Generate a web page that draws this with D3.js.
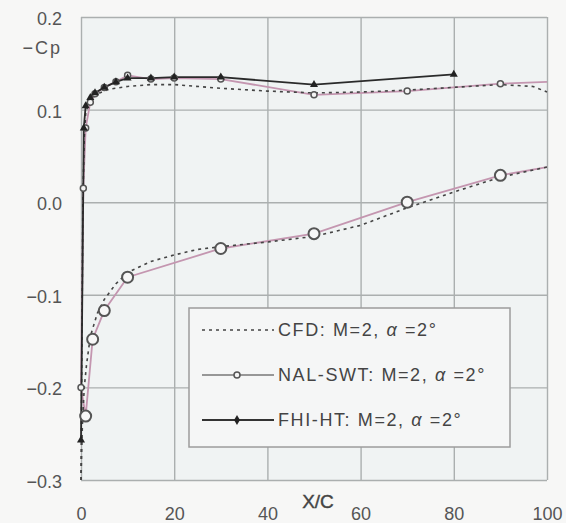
<!DOCTYPE html>
<html>
<head>
<meta charset="utf-8">
<script src="https://cdn.jsdelivr.net/npm/d3@7"></script>
<style>
  body { margin: 0; background: #f7f7f6; }
  svg { display: block; font-family: "Liberation Sans", Arial, sans-serif; }
</style>
</head>
<body>
<div id="chart"></div>
<script>
// === data
var xTicks = [0, 20, 40, 60, 80, 100],
    yTicks = [-0.3, -0.2, -0.1, 0.0, 0.1, 0.2];

// CFD, upper and lower surface
var cfdUpperX = [0, 0.2, 0.4, 0.7, 1, 1.5, 2.5, 4, 6, 10, 15, 20, 30, 40, 50, 60, 70, 80, 90, 97, 100],
    cfdUpperY = [-0.3, -0.15, 0.0, 0.07, 0.095, 0.105, 0.113, 0.118, 0.122, 0.125, 0.127, 0.127, 0.123, 0.12, 0.118, 0.119, 0.121, 0.124, 0.127, 0.125, 0.119];
var cfdLowerX = [0, 0.3, 0.7, 1.2, 2, 3.5, 5, 7.5, 10, 15, 20, 25, 30, 40, 50, 60, 70, 80, 90, 100],
    cfdLowerY = [-0.3, -0.24, -0.2, -0.175, -0.145, -0.12, -0.105, -0.088, -0.076, -0.064, -0.057, -0.051, -0.048, -0.043, -0.037, -0.025, -0.006, 0.011, 0.027, 0.038];

// NAL-SWT, upper and lower surface
var nalUpperX = [0, 0.5, 1, 2, 3, 5, 7.5, 10, 15, 20, 30, 50, 70, 90, 100],
    nalUpperY = [-0.2, 0.015, 0.08, 0.108, 0.117, 0.124, 0.13, 0.137, 0.133, 0.134, 0.133, 0.116, 0.12, 0.128, 0.13];
var nalLowerX = [0, 1, 2.5, 5, 10, 30, 50, 70, 90, 100],
    nalLowerY = [-0.2, -0.231, -0.148, -0.117, -0.081, -0.05, -0.034, 0.0, 0.029, 0.038];

// FHI-HT, upper surface
var fhiX = [0, 0.6, 1, 2, 3, 5, 7.5, 10, 15, 20, 30, 50, 80],
    fhiY = [-0.257, 0.08, 0.104, 0.113, 0.118, 0.124, 0.13, 0.134, 0.134, 0.135, 0.135, 0.127, 0.138];

var legendLabels = ["CFD: M=2, \u03b1 =2\u00b0", "NAL-SWT: M=2, \u03b1 =2\u00b0", "FHI-HT: M=2, \u03b1 =2\u00b0"];

var W = 566, H = 523;

var x = d3.scaleLinear().domain([0, 100]).range([81, 547]),
    y = d3.scaleLinear().domain([-0.3, 0.2]).range([480, 17]);

var svg = d3.select("#chart").append("svg")
    .attr("width", W)
    .attr("height", H);

// plot background
svg.append("rect")
  .attr("x", x(0)).attr("y", y(0.2))
  .attr("width", x(100) - x(0)).attr("height", y(-0.3) - y(0.2))
  .attr("fill", "#f0f3f3");

// === axes with grid lines
var fmt = d3.format(".1f");

var yAxis = svg.append("g")
  .attr("transform", "translate(" + x(0) + ",0)")
  .call(d3.axisLeft(y).tickValues(yTicks).tickSize(-(x(100) - x(0))).tickPadding(19).tickFormat(fmt));

var xAxis = svg.append("g")
  .attr("transform", "translate(0," + y(-0.3) + ")")
  .call(d3.axisBottom(x).tickValues(xTicks).tickSize(-(y(-0.3) - y(0.2))).tickPadding(27).tickFormat(d3.format("d")));

[xAxis, yAxis].forEach(function(ax) {
  ax.select(".domain").remove();
  ax.selectAll(".tick line").attr("stroke", "#abafaf").attr("stroke-width", 1.4);
  ax.selectAll(".tick text").attr("fill", "#555").attr("font-size", 18);
});
yAxis.selectAll(".tick text").attr("dy", "0.42em");

// axis titles
svg.append("text")
  .attr("x", 62).attr("y", 54)
  .attr("text-anchor", "end")
  .attr("font-size", 18).attr("fill", "#555")
  .attr("letter-spacing", 2)
  .text("\u2212Cp");

svg.append("text")
  .attr("x", 318).attr("y", 508)
  .attr("text-anchor", "middle")
  .attr("font-size", 19).attr("fill", "#444")
  .attr("stroke", "#444").attr("stroke-width", 0.4)
  .text("X/C");

// === lines
var line = d3.line()
  .x(function(d) { return x(d[0]); })
  .y(function(d) { return y(d[1]); });

function pairs(xs, ys) {
  return xs.map(function(v, i) { return [v, ys[i]]; });
}

var cfdUpper = pairs(cfdUpperX, cfdUpperY),
    cfdLower = pairs(cfdLowerX, cfdLowerY),
    nalUpper = pairs(nalUpperX, nalUpperY),
    nalLower = pairs(nalLowerX, nalLowerY),
    fhi = pairs(fhiX, fhiY);

[nalUpper, nalLower].forEach(function(s) {
  svg.append("path").datum(s)
    .attr("d", line).attr("fill", "none")
    .attr("stroke", "#c496b0").attr("stroke-width", 1.8);
});

[cfdUpper, cfdLower].forEach(function(s) {
  svg.append("path").datum(s)
    .attr("d", line).attr("fill", "none")
    .attr("stroke", "#444").attr("stroke-width", 1.6)
    .attr("stroke-dasharray", "3,4");
});

svg.append("path").datum(fhi)
  .attr("d", line).attr("fill", "none")
  .attr("stroke", "#2a2a2a").attr("stroke-width", 1.8);

// === markers
// NAL upper: small open circles (no marker at the trailing edge)
svg.selectAll("circle.nalU")
  .data(nalUpper.filter(function(d) { return d[0] < 100; })).enter()
  .append("circle").attr("class", "nalU")
  .attr("cx", function(d) { return x(d[0]); })
  .attr("cy", function(d) { return y(d[1]); })
  .attr("r", 3)
  .attr("fill", "#f4f4f4").attr("stroke", "#555").attr("stroke-width", 1.5);

// NAL lower: big open circles
svg.selectAll("circle.nalL")
  .data(nalLower.filter(function(d) { return d[0] > 0 && d[0] < 100; })).enter()
  .append("circle").attr("class", "nalL")
  .attr("cx", function(d) { return x(d[0]); })
  .attr("cy", function(d) { return y(d[1]); })
  .attr("r", 5.5)
  .attr("fill", "#f7f7f7").attr("stroke", "#555").attr("stroke-width", 2);

// FHI: small filled triangles
svg.selectAll("path.fhi")
  .data(fhi).enter()
  .append("path").attr("class", "fhi")
  .attr("transform", function(d) { return "translate(" + x(d[0]) + "," + y(d[1]) + ")"; })
  .attr("d", d3.symbol().type(d3.symbolTriangle).size(28))
  .attr("fill", "#222");

// === legend
var lg = svg.append("g");
lg.append("rect")
  .attr("x", 189).attr("y", 308)
  .attr("width", 321).attr("height", 139)
  .attr("fill", "#f5f6f6").attr("stroke", "#9c9c9c").attr("stroke-width", 1.5);

var rows = lg.selectAll("g.row")
  .data(legendLabels).enter()
  .append("g").attr("class", "row")
  .attr("transform", function(d, i) { return "translate(0," + (330 + i * 45) + ")"; });

rows.append("line")
  .attr("x1", 202).attr("x2", 274).attr("y1", 0).attr("y2", 0)
  .attr("stroke", function(d, i) { return ["#444", "#777", "#333"][i]; })
  .attr("stroke-width", function(d, i) { return [1.6, 1.3, 2][i]; })
  .attr("stroke-dasharray", function(d, i) { return i === 0 ? "3,4" : null; });

rows.filter(function(d, i) { return i === 1; })
  .append("circle").attr("cx", 237).attr("cy", 0).attr("r", 3)
  .attr("fill", "#f4f4f4").attr("stroke", "#555").attr("stroke-width", 1.5);

rows.filter(function(d, i) { return i === 2; })
  .append("path").attr("transform", "translate(237,0)")
  .attr("d", d3.symbol().type(d3.symbolDiamond).size(30))
  .attr("fill", "#222");

rows.append("text")
  .attr("x", 278).attr("y", 0).attr("dy", "0.36em")
  .attr("font-size", 18).attr("fill", "#444")
  .attr("letter-spacing", 1.6)
  .html(function(d) { return d.replace("\u03b1", "<tspan font-style='italic'>\u03b1</tspan>"); });
</script>
</body>
</html>
